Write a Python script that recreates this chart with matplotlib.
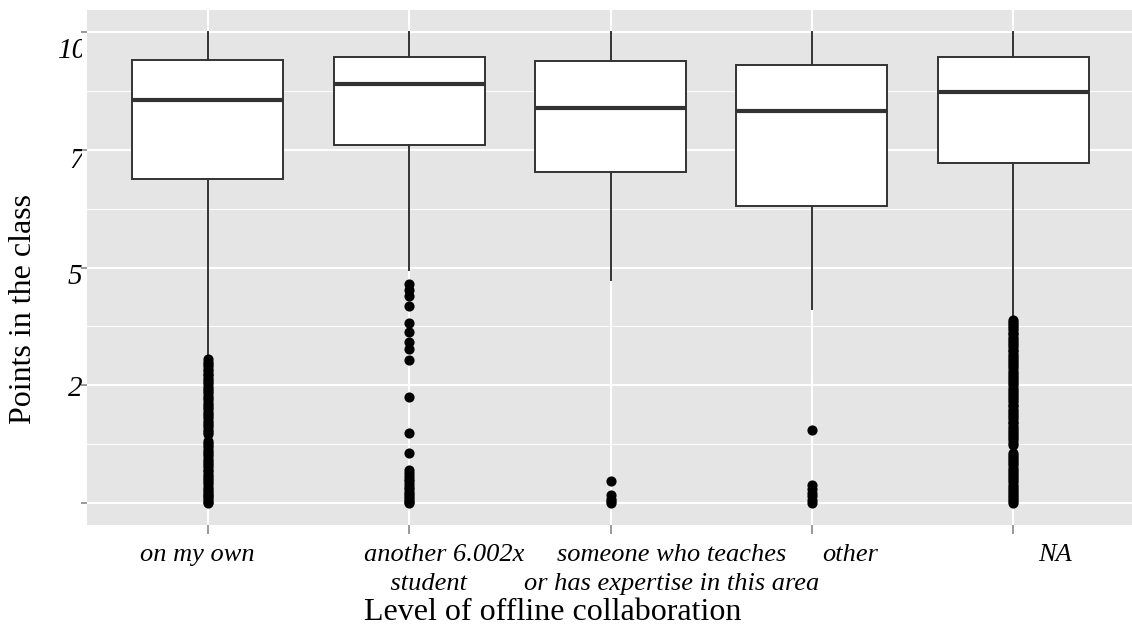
import matplotlib.pyplot as plt
import matplotlib.transforms as mtransforms

# categories and box statistics (points in the class, 0-100)
categories = ["on my own", "another 6.002x\n    student",
              "someone who teaches\nor has expertise in this area", "other", "NA"]
q1 = [68.8, 76.0, 70.2, 63.1, 72.3]
med = [85.6, 88.9, 83.9, 83.2, 87.2]
q3 = [94.1, 94.8, 93.8, 93.1, 94.8]
whislo = [31.0, 49.5, 47.3, 41.1, 39.3]
whishi = [100, 100, 100, 100, 100]

out_own = [0, 0.3, 0.7, 1, 1.4, 1.8, 2.2, 2.6, 3, 3.5, 4, 4.4, 4.9, 5.3, 5.8, 6.2,
           6.7, 7.1, 7.6, 8, 8.5, 9, 9.4, 9.9, 10.4, 10.9, 11.3, 11.8, 12.3, 12.8,
           13.2, 14.6, 15.1, 15.6, 16.1, 16.6, 17, 17.5, 18, 18.5, 19, 19.4, 19.9,
           20.4, 20.9, 21.3, 21.8, 22.3, 22.8, 23.3, 23.7, 24.2, 24.7, 25.2, 25.6,
           26.1, 26.6, 27.1, 27.5, 28, 28.5, 29, 29.5, 30, 30.5]
out_student = [0, 0.3, 0.6, 1, 1.4, 1.9, 2.4, 3, 3.5, 4, 4.6, 5.2, 5.7, 6.4, 7,
               10.7, 14.8, 22.6, 30.3, 32.7, 34.2, 36.3, 38.3, 41.8, 44.0, 45.3, 46.6]
out_expert = [0, 0.4, 0.9, 1.7, 4.7]
out_other = [0, 0.6, 1.4, 2.2, 3.0, 3.8, 15.5]
out_na = [0, 0.4, 0.8, 1.2, 1.7, 2.1, 2.6, 3, 3.5, 3.9, 4.4, 4.8, 5.3, 5.7, 6.2, 6.6,
          7.1, 7.5, 8, 8.4, 8.9, 9.3, 9.8, 10.2, 10.7, 12.4, 12.8, 13.3, 13.7, 14.2,
          14.6, 15.1, 15.5, 16, 16.4, 16.9, 17.3, 17.8, 18.2, 18.7, 19.1, 19.6, 20,
          20.5, 20.9, 21.4, 21.8, 22.3, 22.7, 23.2, 23.6, 24.1, 24.5, 25, 25.4, 25.9,
          26.3, 26.8, 27.2, 27.7, 28.1, 28.6, 29, 29.5, 29.9, 30.4, 30.8, 31.3, 31.7,
          32.2, 32.6, 33.1, 33.5, 34, 34.4, 34.9, 35.3, 35.8, 36.2, 36.7, 37.1, 37.6,
          38, 38.5, 38.9]
fliers = [out_own, out_student, out_expert, out_other, out_na]

yticks = [0, 25, 50, 75, 100]
ytick_labels = ["0", "25", "50", "75", "100"]

W, H, DPI = 1132, 627, 100
fig = plt.figure(figsize=(W / DPI, H / DPI), dpi=DPI)
ax = fig.add_axes([87 / W, 102 / H, 1047 / W, 515 / H])
ax.set_facecolor('#E5E5E5')
for s in ax.spines.values():
    s.set_visible(False)

stats = [dict(med=m, q1=a, q3=b, whislo=lo, whishi=hi, fliers=f)
         for m, a, b, lo, hi, f in zip(med, q1, q3, whislo, whishi, fliers)]
ax.bxp(stats, positions=range(len(categories)), widths=0.75, showcaps=False,
       patch_artist=True, zorder=3,
       boxprops=dict(facecolor='white', edgecolor='#333333', linewidth=1.4),
       medianprops=dict(color='#333333', linewidth=3, solid_capstyle='butt'),
       whiskerprops=dict(color='#333333', linewidth=1.4),
       flierprops=dict(marker='o', markerfacecolor='black', markeredgecolor='black',
                       markersize=6.3, linestyle='none'))

ax.set_xlim(-0.6, 4.6)
ax.set_ylim(-4.67, 104.7)

# grid
ax.set_axisbelow(True)
ax.set_yticks(yticks)
ax.set_yticks([12.5, 37.5, 62.5, 87.5], minor=True)
ax.set_xticks(range(len(categories)))
ax.grid(which='major', color='white', linewidth=1.5)
ax.grid(which='minor', axis='y', color='white', linewidth=0.7)
ax.tick_params(which='minor', length=0)

ax.tick_params(axis='y', length=4.3, width=1.1, color='#7F7F7F', pad=0)
ax.tick_params(axis='x', length=6.5, width=1.1, color='#7F7F7F', pad=7)
ax.set_yticklabels(ytick_labels, family='Liberation Serif', style='italic', size=21, ha='left')
ax.set_xticklabels(categories, family='Liberation Serif', style='italic', size=19, linespacing=1.4)

# tick labels sit a little off their ticks in the original; y labels are cut at the left
ytick_dx = [3, -13, -13, -12, -23]
ytick_dy = [-4, -1, -6, -8.5, -15.5]
clip = mtransforms.TransformedBbox(mtransforms.Bbox([[0, 0], [82 / W, 1]]), fig.transFigure)
for lab, dx, dy in zip(ax.get_yticklabels(), ytick_dx, ytick_dy):
    lab.set_transform(lab.get_transform() + mtransforms.ScaledTranslation(dx / DPI, dy / DPI, fig.dpi_scale_trans))
    lab.set_clip_box(clip)
    lab.set_clip_on(True)
xtick_dx = [-10.5, 35.5, 61, 38, 42]
for lab, dx in zip(ax.get_xticklabels(), xtick_dx):
    lab.set_transform(lab.get_transform() + mtransforms.ScaledTranslation(dx / DPI, 0, fig.dpi_scale_trans))
ax.get_xticklabels()[1].set_multialignment('left')

title_font = dict(family='Liberation Serif', size=23)
fig.text(553 / W, (H - 620) / H, "Level of offline collaboration", ha='center', va='baseline', **title_font)
fig.text(24 / W, 1 - 309 / H, "Points in the class", ha='center', va='center', rotation=90, **title_font)

fig.savefig('out.png', dpi=DPI)
